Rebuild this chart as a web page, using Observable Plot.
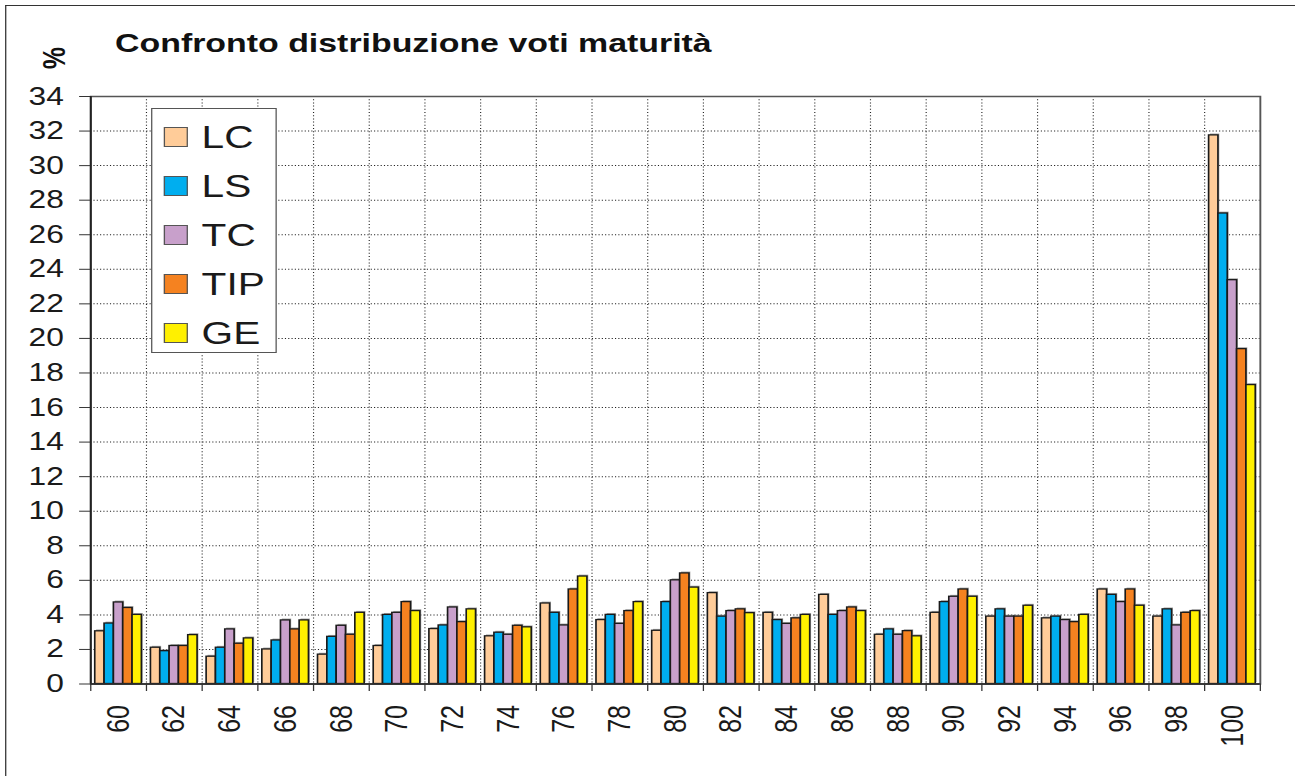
<!DOCTYPE html>
<html>
<head>
<meta charset="utf-8">
<script src="https://cdn.jsdelivr.net/npm/d3@7"></script>
<script src="https://cdn.jsdelivr.net/npm/@observablehq/plot@0.6"></script>
<style>
  html, body { margin: 0; padding: 0; background: #fff; overflow: hidden; }
  #wrap { position: absolute; left: 0; top: 0; width: 1020px; height: 776px;
          transform-origin: 0 0; font-family: "Liberation Sans", Arial, sans-serif; color: #1a1a1a; }
  #border { position: absolute; left: 3.9px; top: 5px; width: 1100px; height: 900px;
            border-top: 1.5px solid #333; border-left: 1.2px solid #333; }
  #title { position: absolute; left: 90.6px; top: 29.5px; font-size: 26.7px; line-height: 26.7px;
           font-weight: bold; white-space: nowrap; color: #111; }
  #pct { position: absolute; left: 22px; top: 43px; width: 40px; height: 30px; line-height: 30px;
         text-align: center; font-size: 25px; font-weight: bold; transform: rotate(-90deg); color: #111; }
  #chart { position: absolute; left: 0; top: 0; }
  #legendbox { position: absolute; left: 119.4px; top: 108.3px; width: 98.9px; height: 244.7px;
               box-sizing: border-box; border: 1.5px solid #555; background: #fff; }
  .sw { position: absolute; left: 129.4px; width: 18.4px; height: 19.3px; box-sizing: border-box;
        border: 1.2px solid #555; }
  .lt { position: absolute; left: 158.8px; font-size: 32px; line-height: 32px; white-space: nowrap; }
</style>
</head>
<body>
<div id="wrap">
  <div id="border"></div>
  <div id="title">Confronto distribuzione voti maturità</div>
  <div id="pct">%</div>
  <div id="chart"></div>
  <div id="legendbox"></div>
</div>
<script>
// ---- data ----
const categories = [60, 62, 64, 66, 68, 70, 72, 74, 76, 78, 80, 82, 84, 86, 88, 90, 92, 94, 96, 98, 100];
const seriesNames = ["LC", "LS", "TC", "TIP", "GE"];
const LC  = [3.05, 2.1, 1.58, 2.0, 1.7, 2.2, 3.18, 2.76, 4.66, 3.7, 3.08, 5.26, 4.12, 5.16, 2.85, 4.12, 3.9, 3.8, 5.47, 3.9, 31.75];
const LS  = [3.5, 1.9, 2.1, 2.52, 2.73, 4.0, 3.39, 2.97, 4.12, 4.0, 4.74, 3.9, 3.7, 4.0, 3.16, 4.74, 4.32, 3.9, 5.16, 4.32, 27.23];
const TC  = [4.72, 2.2, 3.16, 3.68, 3.37, 4.12, 4.43, 2.85, 3.39, 3.48, 6.0, 4.22, 3.48, 4.22, 2.85, 5.05, 3.9, 3.7, 4.74, 3.39, 23.37];
const TIP = [4.4, 2.2, 2.33, 3.16, 2.85, 4.74, 3.58, 3.37, 5.47, 4.22, 6.4, 4.32, 3.8, 4.43, 3.06, 5.47, 3.9, 3.58, 5.47, 4.12, 19.38];
const GE  = [4.0, 2.83, 2.64, 3.68, 4.12, 4.22, 4.32, 3.28, 6.22, 4.74, 5.58, 4.1, 4.0, 4.22, 2.76, 5.05, 4.53, 4.0, 4.53, 4.22, 17.3];
const yTicks = [0, 2, 4, 6, 8, 10, 12, 14, 16, 18, 20, 22, 24, 26, 28, 30, 32, 34];
const colors = ["#FFCC99", "#00AEEF", "#C8A0CB", "#F58220", "#FFF000"];

// ---- layout ----
const S = 1295 / 1020;
document.getElementById("wrap").style.transform = `scaleX(${S})`;

const seriesValues = [LC, LS, TC, TIP, GE];
const rows = [];
seriesValues.forEach((vals, k) => {
  vals.forEach((v, j) => rows.push({cat: categories[j], series: seriesNames[k], k, value: v}));
});
const step = categories[1] - categories[0];
const bounds = [categories[0] - step / 2, ...categories.map(c => c + step / 2)];
const innerBounds = bounds.slice(1, -1);
const groupW = 1.675, barW = groupW / seriesNames.length;
const x1 = d => d.cat - 0.835 + d.k * barW;
const x2 = d => d.cat - 0.835 + (d.k + 1) * barW;

const chart = Plot.plot({
  width: 1020,
  height: 776,
  marginTop: 96,
  marginBottom: 92.5,
  marginLeft: 71,
  marginRight: 27.8,
  x: {domain: [bounds[0], bounds[bounds.length - 1]], axis: null, label: null},
  y: {domain: [0, 34], axis: null, label: null},
  color: {domain: seriesNames, range: colors},
  style: {fontFamily: "Liberation Sans, Arial, sans-serif", color: "#1a1a1a", background: "transparent", overflow: "visible"},
  marks: [
    Plot.ruleY(yTicks.filter(t => t > 0 && t < 34), {stroke: "#222", strokeWidth: 1, strokeDasharray: "0.9,1.7"}),
    Plot.ruleX(innerBounds, {stroke: "#222", strokeWidth: 0.9, strokeDasharray: "1,2.2"}),
    Plot.rect(rows, {x1, x2, y1: 0, y2: "value", fill: "#8c8c8c", fillOpacity: 0.75, dx: 1.1, dy: -1.4}),
    Plot.rect(rows, {x1, x2, y1: 0, y2: "value", fill: "series", stroke: "#1a1a1a", strokeWidth: 1.3}),
    Plot.frame({stroke: "#555", strokeWidth: 1.5}),
    Plot.ruleX([bounds[0]], {stroke: "#222", strokeWidth: 1.5}),
    Plot.ruleY([0], {stroke: "#222", strokeWidth: 1.5}),
    Plot.axisY(yTicks, {tickSize: 8.7, tickPadding: 12.5, fontSize: 25, stroke: "#333", label: null}),
    Plot.axisX(categories, {tickSize: 0, tickRotate: -90, tickPadding: 21, fontSize: 25, label: null}),
    Plot.axisX(bounds, {tickSize: 7.5, tickFormat: () => "", stroke: "#333", label: null})
  ]
});
document.getElementById("chart").appendChild(chart);

// ---- legend ----
const wrap = document.getElementById("wrap");
const centers = seriesNames.map((_, i) => 137 + i * 49);
seriesNames.forEach((name, i) => {
  const sw = document.createElement("div");
  sw.className = "sw";
  sw.style.top = (centers[i] - 9.65) + "px";
  sw.style.background = colors[i];
  wrap.appendChild(sw);
  const t = document.createElement("div");
  t.className = "lt";
  t.style.top = (centers[i] - 15.6) + "px";
  t.textContent = name;
  wrap.appendChild(t);
});
</script>
</body>
</html>
